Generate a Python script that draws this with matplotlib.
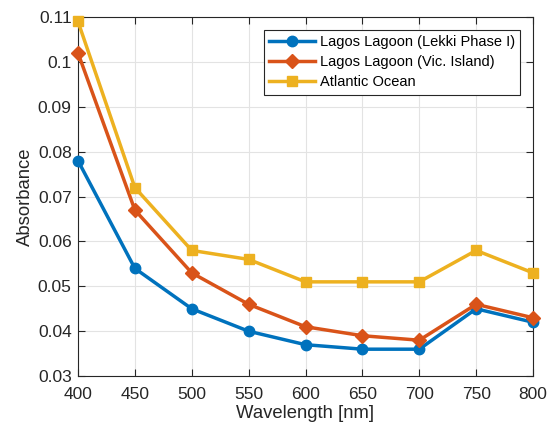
import matplotlib
matplotlib.use("Agg")
import matplotlib.pyplot as plt

wavelength = [400, 450, 500, 550, 600, 650, 700, 750, 800]
lekki = [0.078, 0.054, 0.045, 0.040, 0.037, 0.036, 0.036, 0.045, 0.042]
vic_island = [0.102, 0.067, 0.053, 0.046, 0.041, 0.039, 0.038, 0.046, 0.043]
atlantic = [0.109, 0.072, 0.058, 0.056, 0.051, 0.051, 0.051, 0.058, 0.053]
labels = ["Lagos Lagoon (Lekki Phase I)", "Lagos Lagoon (Vic. Island)", "Atlantic Ocean"]
yticks = [0.03, 0.04, 0.05, 0.06, 0.07, 0.08, 0.09, 0.1, 0.11]
ytick_labels = ["0.03", "0.04", "0.05", "0.06", "0.07", "0.08", "0.09", "0.1", "0.11"]

plt.rcParams['font.family'] = ['Liberation Sans', 'DejaVu Sans']

fig = plt.figure(figsize=(5.57, 4.25), dpi=100)
ax = fig.add_axes([0.140, 0.115, 0.817, 0.845])

ax.plot(wavelength, lekki, color='#0072BD', lw=2.5, marker='o', ms=7.5, label=labels[0], clip_on=False, zorder=3)
ax.plot(wavelength, vic_island, color='#D95319', lw=2.5, marker='D', ms=7.5, label=labels[1], clip_on=False, zorder=3)
ax.plot(wavelength, atlantic, color='#EDB120', lw=2.5, marker='s', ms=7, label=labels[2], clip_on=False, zorder=3)

ax.set_xlim(400, 800)
ax.set_ylim(0.03, 0.11)
ax.set_xticks(wavelength)
ax.set_yticks(yticks)
ax.set_yticklabels(ytick_labels)
ax.grid(True, color='#e3e3e3', lw=0.8)
ax.set_axisbelow(True)
ax.tick_params(direction='in', top=True, right=True, labelsize=12.5, colors='#262626', length=5, width=0.8)
ax.tick_params(axis='x', pad=8)
ax.tick_params(axis='y', pad=4.5)
for s in ax.spines.values():
    s.set_color('#262626')
    s.set_linewidth(0.8)
ax.set_xlabel('Wavelength [nm]', fontsize=13.3, color='#262626', labelpad=2)
ax.set_ylabel('Absorbance', fontsize=13.3, color='#262626', labelpad=3)

leg = ax.legend(loc='upper right', fontsize=10.5, fancybox=False, framealpha=1,
                edgecolor='#262626', borderaxespad=0.9, handlelength=3.2,
                borderpad=0.35, labelspacing=0.42, handletextpad=0.3)
leg.get_frame().set_linewidth(0.8)

fig.savefig('out.png', dpi=100)
